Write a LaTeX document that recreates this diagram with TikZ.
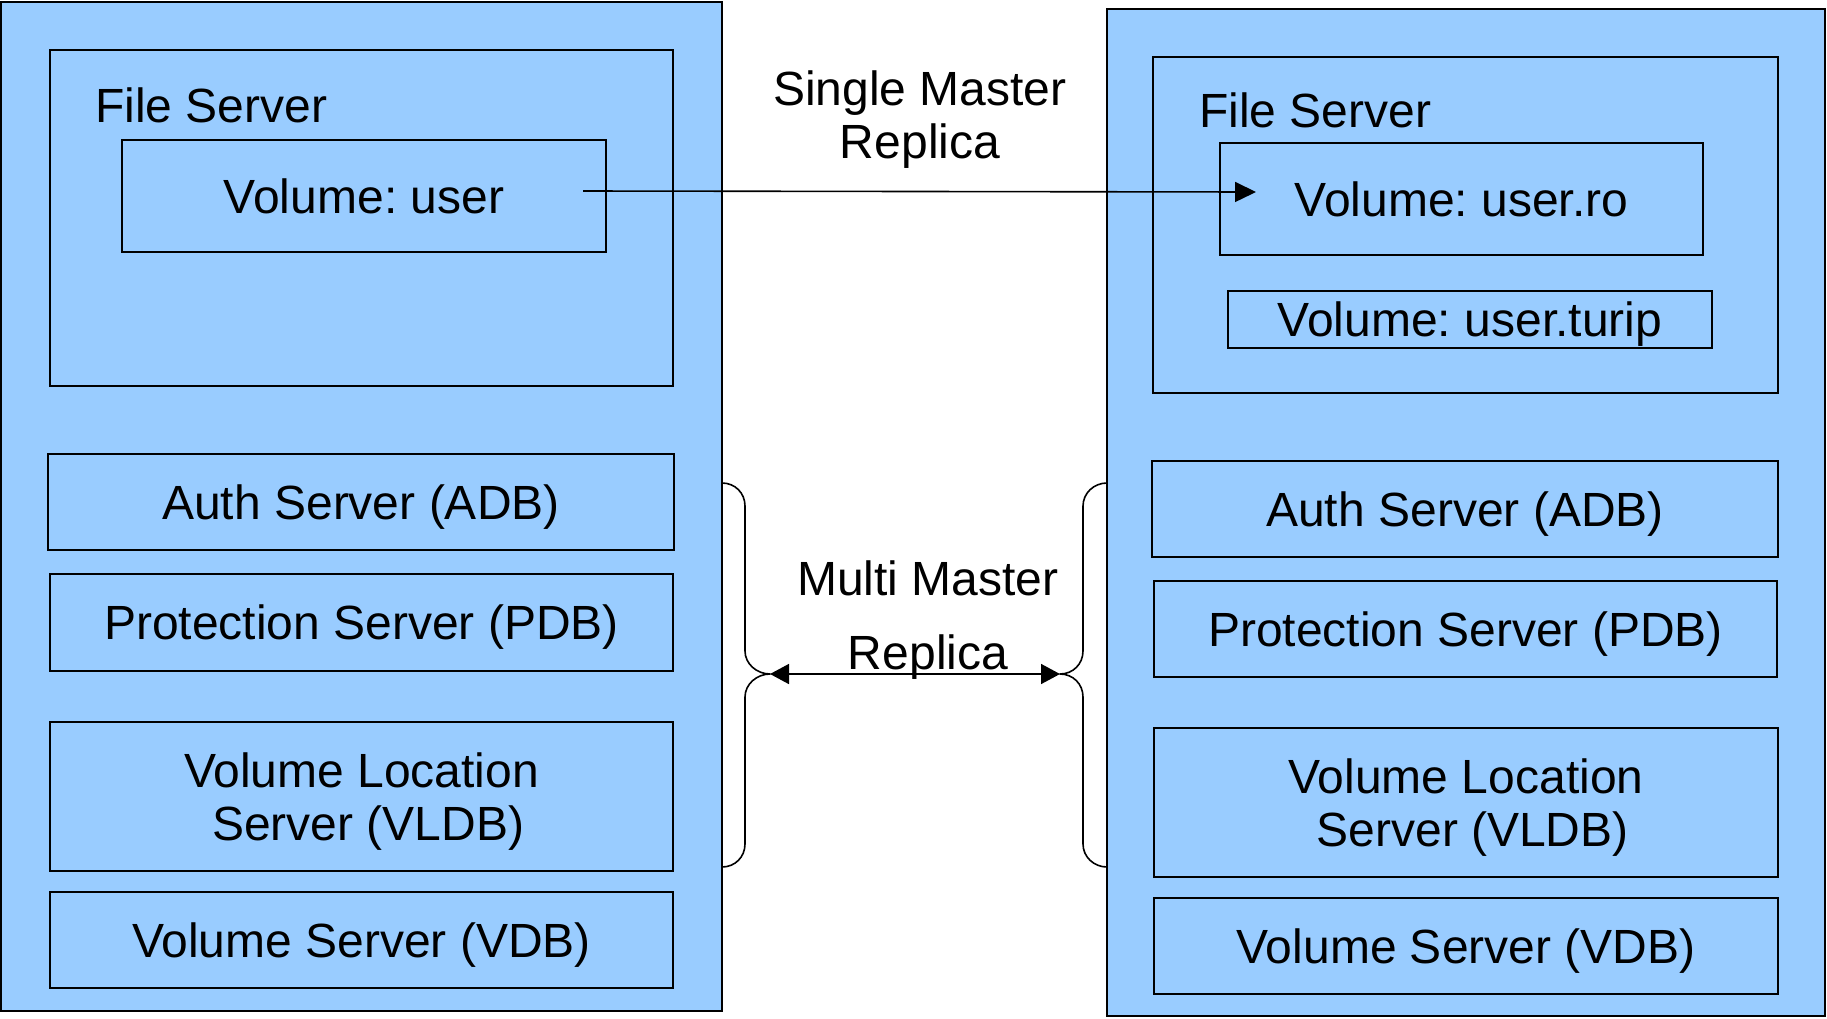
\documentclass[tikz,border=0pt]{standalone}
\usepackage{fontspec}
\setmainfont{Liberation Sans}
\usetikzlibrary{arrows.meta}

\definecolor{srvblue}{HTML}{99CCFF}

\tikzset{
  panel/.style={draw=black, fill=srvblue, line width=1.8pt, inner sep=0pt},
  unit/.style={draw=black, fill=srvblue, line width=1.6pt, inner sep=0pt,
               text height=34.4pt, text depth=0pt, align=center},
  unittwo/.style={draw=black, fill=srvblue, line width=1.6pt, inner sep=0pt,
               text depth=0pt, align=center},
  caption/.style={inner sep=0pt, align=center},
  link/.style={line width=1.6pt, -{Triangle[length=21pt,width=20pt]}},
  duplex/.style={line width=1.6pt,
                 {Triangle[length=19pt,width=20pt]}-{Triangle[length=19pt,width=20pt]}},
  bracket/.style={line width=1.6pt, line join=round}
}

\begin{document}
\frenchspacing
\begin{tikzpicture}[x=1pt, y=-1pt, font=\fontsize{48}{53}\selectfont]
  \useasboundingbox (0,0) rectangle (1827,1018);

  % server machines
  \node[panel, minimum width=721pt, minimum height=1009pt] (hostA) at (361.5,506.5) {};
  \node[panel, minimum width=718pt, minimum height=1007pt] (hostB) at (1466,512.5) {};

  % file servers
  \node[panel, line width=1.6pt, minimum width=623pt, minimum height=336pt] (fsA) at (361.5,218) {};
  \node[panel, line width=1.6pt, minimum width=625pt, minimum height=336pt] (fsB) at (1465.5,225) {};
  \node[caption, anchor=base west] (fsAlabel) at (95,122) {File Server};
  \node[caption, anchor=base west] (fsBlabel) at (1199,127) {File Server};

  % volumes
  \node[unit, minimum width=484pt, minimum height=112pt] (volA) at (364,196) {Volume: user};
  \node[unit, minimum width=483pt, minimum height=112pt] (volB) at (1461.5,199) {Volume: user.ro};
  \node[unit, minimum width=484pt, minimum height=57pt] (volC) at (1470,319.5) {Volume: user.turip};

  % database servers, left machine
  \node[unit, minimum width=626pt, minimum height=96pt] (adbA) at (361,502) {Auth Server (ADB)};
  \node[unit, minimum width=623pt, minimum height=97pt] (pdbA) at (361.5,622.5) {Protection Server (PDB)};
  \node[unittwo, minimum width=623pt, minimum height=149pt] (vldbA) at (361.5,796.5)
    {Volume Location\\\hspace*{13.3pt}Server (VLDB)};
  \node[unit, minimum width=623pt, minimum height=96pt] (vdbA) at (361.5,940) {Volume Server (VDB)};

  % database servers, right machine
  \node[unit, minimum width=626pt, minimum height=96pt] (adbB) at (1465,509) {Auth Server (ADB)};
  \node[unit, minimum width=623pt, minimum height=96pt] (pdbB) at (1465.5,629) {Protection Server (PDB)};
  \node[unittwo, minimum width=624pt, minimum height=149pt] (vldbB) at (1466,802.5)
    {Volume Location\\\hspace*{13.3pt}Server (VLDB)};
  \node[unit, minimum width=624pt, minimum height=96pt] (vdbB) at (1466,946) {Volume Server (VDB)};

  % single master replication of the user volume
  \coordinate (replSrc) at (583,191);
  \coordinate (replDst) at (1256,192);
  \draw[link] (replSrc) -- (replDst);
  \node[caption, anchor=base] (singleLbl) at (920,158) {Single Master\\Replica};

  % brackets grouping the database servers
  \coordinate (tipA) at (770,674);
  \coordinate (tipB) at (1060,674);
  \draw[bracket] (722,483) .. controls (735,483) and (745,493) .. (745,506)
    -- (745,651) .. controls (745,664) and (757,674) .. (tipA)
    .. controls (757,674) and (745,684) .. (745,697)
    -- (745,844) .. controls (745,857) and (735,867) .. (722,867);
  \draw[bracket] (1107,483) .. controls (1094,483) and (1083,493) .. (1083,506)
    -- (1083,651) .. controls (1083,664) and (1073,674) .. (tipB)
    .. controls (1073,674) and (1083,684) .. (1083,697)
    -- (1083,844) .. controls (1083,857) and (1094,867) .. (1107,867);

  % multi master replication between the database servers
  \draw[duplex] (tipA) -- (tipB);
  \node[caption, anchor=base] (multiLbl1) at (928,595) {Multi Master};
  \node[caption, anchor=base] (multiLbl2) at (928,669) {Replica};
\end{tikzpicture}
\end{document}
